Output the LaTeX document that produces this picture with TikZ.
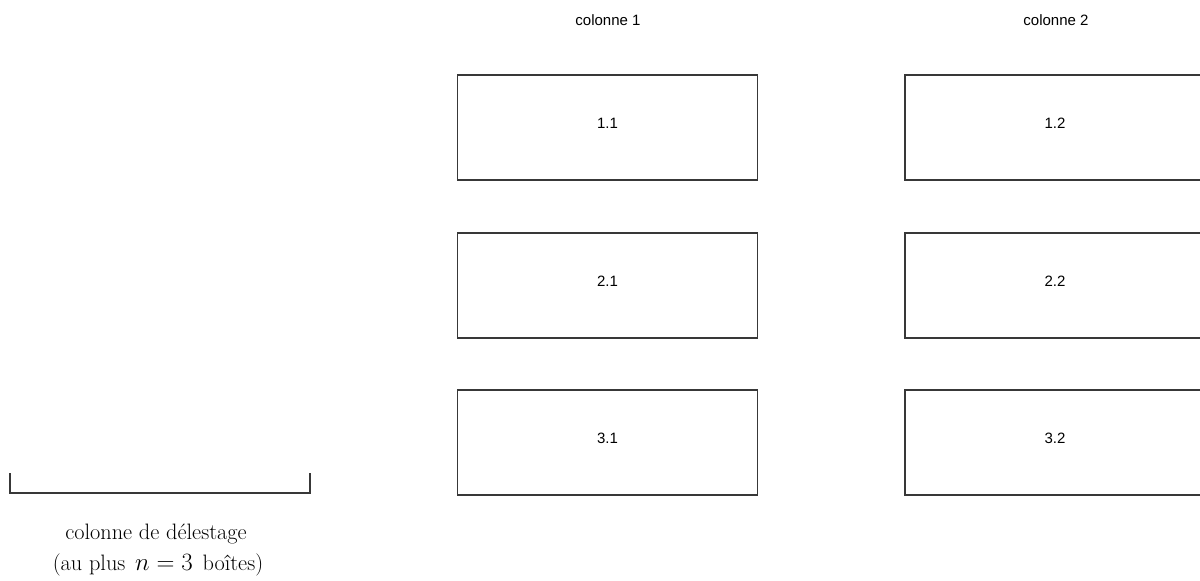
\documentclass[tikz,border=0pt]{standalone}
\usepackage{fontspec}
\newfontfamily\labelfont{Liberation Sans}
\begin{document}
\begin{tikzpicture}[x=1pt,y=-1pt,
  frame/.style={draw=black!78,line width=1.6pt,minimum width=300pt,minimum height=105pt,
    inner sep=0pt,font=\labelfont\fontsize{15}{18}\selectfont,text depth=9pt},
  head/.style={font=\labelfont\fontsize{15}{18}\selectfont,inner sep=0pt,anchor=base},
  note/.style={font=\fontsize{22.3}{27}\selectfont,inner sep=0pt,anchor=base}]
\useasboundingbox (0,0) rectangle (1200,581);
\clip (0,0) rectangle (1200,581);

% column headings
\node[head] (h1) at (608,25) {colonne 1};
\node[head] (h2) at (1056,25) {colonne 2};

% boxes of column 1
\node[frame] (b11) at (607.5,127.5) {1.1};
\node[frame] (b21) at (607.5,285.5) {2.1};
\node[frame] (b31) at (607.5,442.5) {3.1};

% boxes of column 2 (partly beyond the right edge)
\node[frame] (b12) at (1055,127.5) {1.2};
\node[frame] (b22) at (1055,285.5) {2.2};
\node[frame] (b32) at (1055,442.5) {3.2};

% overflow column bracket
\coordinate (bl) at (10,473);
\coordinate (br) at (310,473);
\draw[black!78,line width=1.6pt] (bl) -- ++(0,20) -| (br);

% caption under the bracket
\node[note] (cap1) at (156,539) {colonne de délestage};
\node[note] (cap2) at (158,570) {(au plus \hspace{3pt}{\fontsize{24.5}{27}\selectfont$n=3$}\hspace{3pt} boîtes)};
\end{tikzpicture}
\end{document}
